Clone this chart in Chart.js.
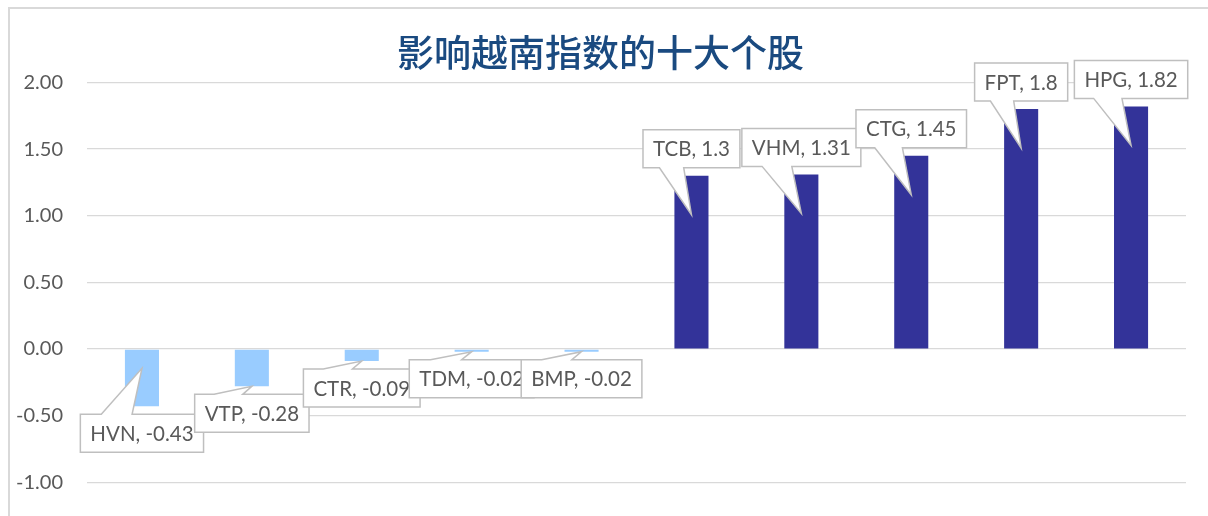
<!DOCTYPE html>
<html>
<head>
<meta charset="utf-8">
<script src="https://cdn.jsdelivr.net/npm/chart.js@4/dist/chart.umd.min.js"></script>
<style>
  html, body { margin: 0; padding: 0; background: #fff; overflow: hidden; }
  #caja { position: relative; width: 1208px; height: 585px; }
</style>
</head>
<body>
<div id="caja"><canvas id="grafico"></canvas></div>
<script>
// datos del grafico
const acciones = ['HVN', 'VTP', 'CTR', 'TDM', 'BMP', 'TCB', 'VHM', 'CTG', 'FPT', 'HPG']
const valores = [-0.43, -0.28, -0.09, -0.02, -0.02, 1.3, 1.31, 1.45, 1.8, 1.82]
const yMin = -1.5
const yMax = 2.0
const yPaso = 0.5
const titulo = '影响越南指数的十大个股'

// colores
const colorNeg = '#99CCFF'
const colorPos = '#333399'

// donde va la punta de la flecha de cada etiqueta (px desde el final de la barra)
const puntaFlecha = [-38, 0, 0, 0, 0, 39, 39, 39, 39, 39]

let marco = {
    id: 'marco',
    beforeDraw: (chart) => {
        let ctx = chart.ctx
        ctx.save()
        ctx.fillStyle = '#fff'
        ctx.fillRect(0, 0, chart.width, chart.height)
        ctx.strokeStyle = '#D9D9D9'
        ctx.lineWidth = 2
        ctx.strokeRect(9, 8, 1400, 1000)
        ctx.restore()
    }
}

let globos = {
    id: 'globos',
    afterDatasetsDraw: (chart) => {
        let ctx = chart.ctx
        let meta = chart.getDatasetMeta(0)
        ctx.save()
        ctx.font = '20.5px Lato'
        ctx.textAlign = 'center'
        ctx.textBaseline = 'middle'
        meta.data.forEach((barra, i) => {
            let v = valores[i]
            let txt = acciones[i] + ', ' + v
            let w = ctx.measureText(txt).width + 20
            let h = 38
            let cx = barra.x
            let cy, top, bottom
            if (v >= 0) {
                bottom = barra.y - 8
                top = bottom - h
            } else {
                top = barra.y + 8
                bottom = top + h
            }
            cy = (top + bottom) / 2
            let left = cx - w / 2
            let right = cx + w / 2
            let b1 = cx - 0.33 * w
            let b2 = cx - 0.08 * w
            let tipX = barra.x
            let tipY = barra.y + puntaFlecha[i]

            ctx.beginPath()
            if (v >= 0) {
                ctx.moveTo(left, top)
                ctx.lineTo(right, top)
                ctx.lineTo(right, bottom)
                ctx.lineTo(b2, bottom)
                ctx.lineTo(tipX, tipY)
                ctx.lineTo(b1, bottom)
                ctx.lineTo(left, bottom)
            } else {
                ctx.moveTo(left, top)
                ctx.lineTo(b1, top)
                ctx.lineTo(tipX, tipY)
                ctx.lineTo(b2, top)
                ctx.lineTo(right, top)
                ctx.lineTo(right, bottom)
                ctx.lineTo(left, bottom)
            }
            ctx.closePath()
            ctx.fillStyle = '#fff'
            ctx.fill()
            ctx.strokeStyle = '#BFBFBF'
            ctx.lineWidth = 1.5
            ctx.stroke()

            ctx.fillStyle = '#595959'
            ctx.fillText(txt, cx, cy + 1)
        })
        ctx.restore()
    }
}

var ctx = document.getElementById('grafico').getContext('2d')
var miGrafico = new Chart(ctx, {
    type: 'bar',
    data: {
        labels: acciones,
        datasets: [{
            data: valores,
            backgroundColor: valores.map(v => v < 0 ? colorNeg : colorPos),
            barPercentage: 0.31,
            categoryPercentage: 1
        }]
    },
    options: {
        responsive: true,
        maintainAspectRatio: false,
        animation: false,
        layout: {
            padding: { left: 15, right: 22, top: 0, bottom: 22 }
        },
        plugins: {
            legend: { display: false },
            tooltip: { enabled: false },
            title: {
                display: true,
                text: titulo,
                color: '#1A4A80',
                font: { family: '"Noto Sans CJK SC", sans-serif', size: 37, weight: '500' },
                padding: { top: 31, bottom: 7 }
            }
        },
        scales: {
            x: {
                display: false
            },
            y: {
                min: yMin,
                max: yMax,
                border: { display: false },
                grid: { color: '#D9D9D9', lineWidth: 1.3, drawTicks: false },
                ticks: {
                    stepSize: yPaso,
                    padding: 24,
                    color: '#595959',
                    font: { family: 'Lato', size: 20 },
                    callback: (val) => val.toFixed(2)
                },
                afterFit: (scale) => { scale.width = 72 }
            }
        }
    },
    plugins: [marco, globos]
})
</script>
</body>
</html>
